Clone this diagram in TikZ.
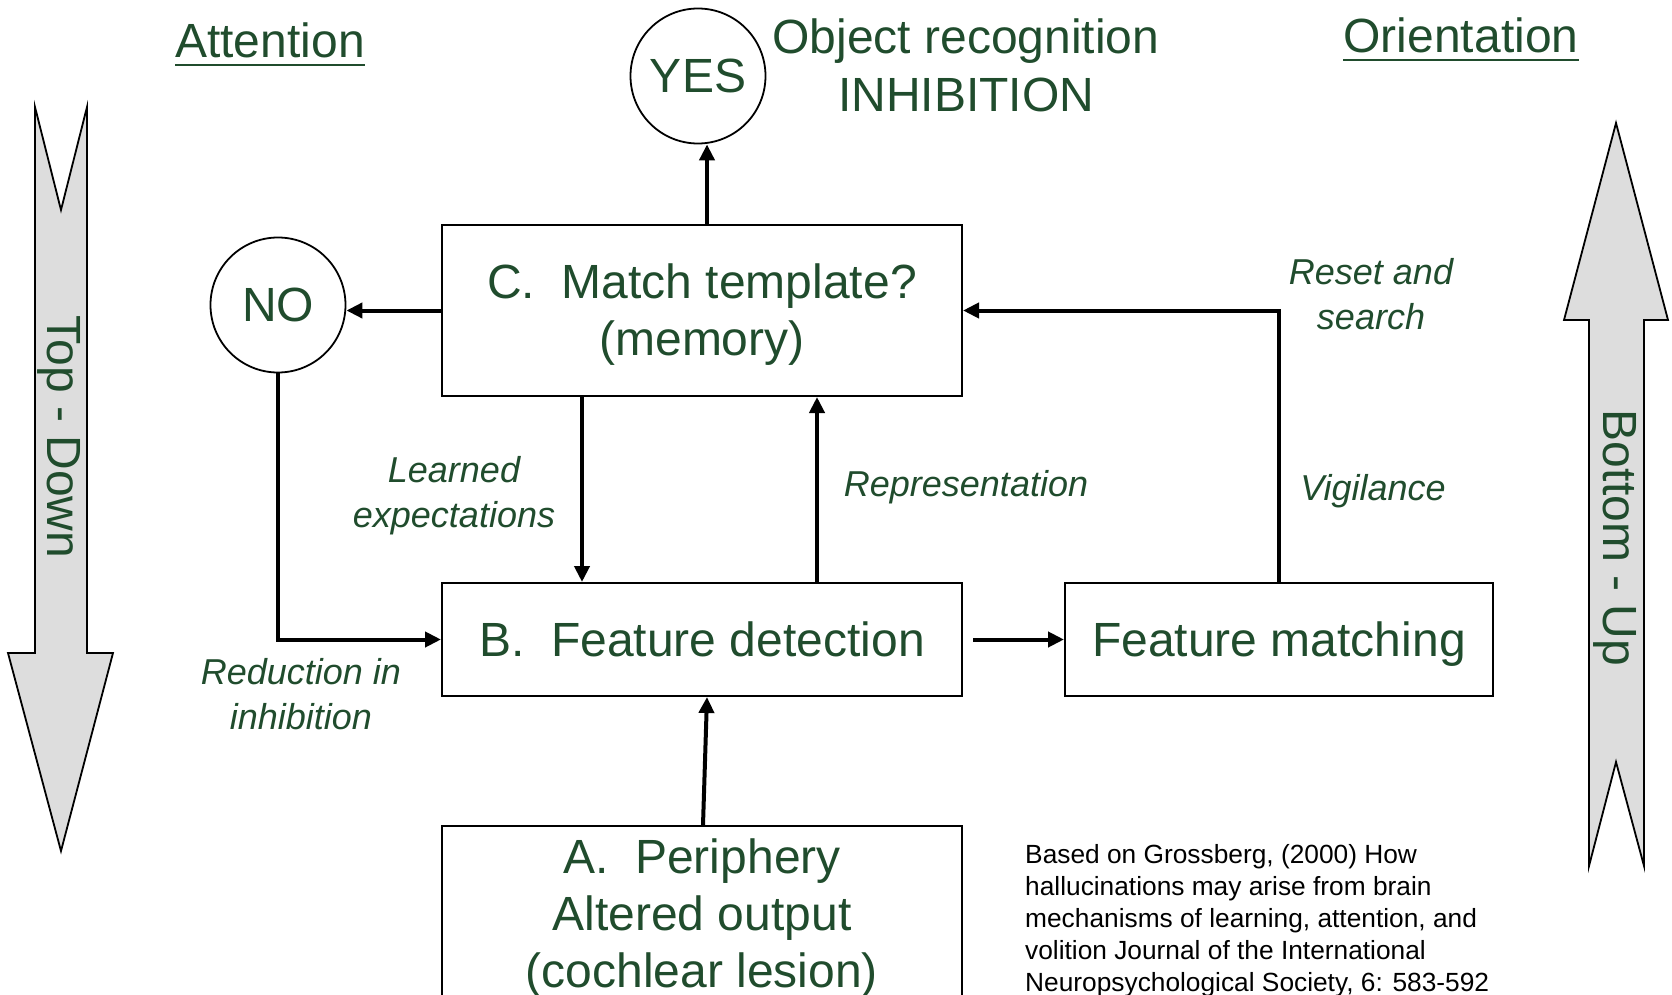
\documentclass[tikz,border=0pt]{standalone}
\usepackage{fontspec}
\setmainfont{Liberation Sans}
\usepackage{tikz}
\usetikzlibrary{arrows.meta,positioning}
\definecolor{textgreen}{RGB}{32,76,45}
\definecolor{bandgray}{RGB}{221,221,221}

\begin{document}
\begin{tikzpicture}[x=1pt,y=-1pt,
    box/.style={draw,line width=2pt,minimum width=520pt,align=center,text=textgreen,
        font=\fontsize{48}{57}\selectfont,text height=43pt,text depth=10pt},
    answer/.style={circle,draw,line width=1.8pt,minimum size=135pt,inner sep=0pt,text=textgreen,
        font=\fontsize{48}{57}\selectfont},
    heading/.style={inner sep=0pt,text=textgreen,font=\fontsize{48}{58}\selectfont,align=center},
    note/.style={inner sep=0pt,text=textgreen,font=\fontsize{36}{45}\selectfont\itshape,align=center},
    flow/.style={line width=4pt,-{Triangle[length=16pt,width=15pt]}},
    band/.style={fill=bandgray,draw=black,line width=1.8pt,line join=miter}]
    \useasboundingbox (0,0) rectangle (1672,995);
    \clip (0,0) rectangle (1672,995);

    % Big side arrows
    \filldraw[band] (35,107) -- (61,210) -- (87,107) -- (87,653) -- (113,653) -- (61,851)
        -- (8,653) -- (35,653) -- cycle;
    \filldraw[band] (1616,123) -- (1668,320) -- (1644,320) -- (1644,866) -- (1616,762)
        -- (1589,866) -- (1589,320) -- (1564,320) -- cycle;
    \node[heading,rotate=-90] (topdown) at (59,437) {Top - Down};
    \node[heading,rotate=-90] (bottomup) at (1615,538) {Bottom - Up};

    % Headings
    \node[heading] (attention) at (270,40) {Attention};
    \draw[textgreen,line width=2.5pt] ([yshift=-8pt]attention.base west) -- ([yshift=-8pt]attention.base east);
    \node[heading] (orientation) at (1461,35) {Orientation};
    \draw[textgreen,line width=2.5pt] ([yshift=-8pt]orientation.base west) -- ([yshift=-8pt]orientation.base east);
    \node[heading] (objrec) at (966,65) {Object recognition\\INHIBITION};

    % Boxes and decisions
    \node[box,minimum height=171pt,text height=100pt] (match) at (702,310.5) {C.~~Match template?\\(memory)};
    \node[box,minimum height=113pt] (detect) at (702,639.5) {B.~~Feature detection};
    \node[box,minimum width=428pt,minimum height=113pt] (fmatch) at (1279,639.5) {Feature matching};
    \node[box,minimum height=176pt,text height=157pt] (periph) at (702,914) {A.~~Periphery\\Altered output\\(cochlear lesion)};
    \node[answer] (yes) at (698,76) {YES};
    \node[answer] (no) at (278,305) {NO};

    % Connections
    \draw[flow] ([xshift=5pt]match.north) -- ([xshift=5pt]match.north |- yes.south);
    \draw[flow] (match.west) -- (match.west -| no.east);
    \draw[flow] (no.south) |- (detect.west);
    \draw[flow] ([xshift=-120pt]match.south) -- ([xshift=-120pt]detect.north);
    \draw[flow] ([xshift=115pt]detect.north) -- ([xshift=115pt]match.south);
    \draw[flow] ([xshift=10pt]detect.east) -- (fmatch.west);
    \draw[flow] (fmatch.north) |- (match.east);
    \draw[flow] ([xshift=1pt]periph.north) -- ([xshift=5pt]detect.south);

    % Labels
    \node[note] (learned) at (454,496) {Learned\\expectations};
    \node[note] (repr) at (966,487) {Representation};
    \node[note] (reset) at (1371,294) {Reset and\\search};
    \node[note] (vigil) at (1373,491) {Vigilance};
    \node[note] (reduct) at (301,694) {Reduction in\\inhibition};
    \node[anchor=west,align=left,inner sep=0pt,font=\fontsize{26.3}{32}\selectfont] (cite) at (1025,921)
        {Based on Grossberg, (2000) How\\hallucinations may arise from brain\\mechanisms of learning, attention, and\\volition Journal of the International\\Neuropsychological Society, 6: 583-592};
\end{tikzpicture}
\end{document}
